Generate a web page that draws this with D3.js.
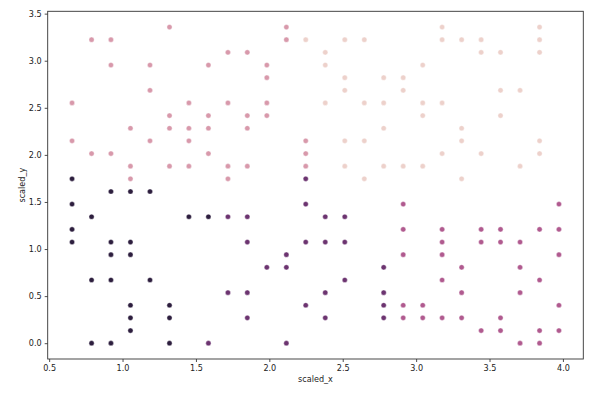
<!DOCTYPE html>
<html>
<head>
<meta charset="utf-8">
<script src="https://cdn.jsdelivr.net/npm/d3@7"></script>
<style>
	body { margin: 0; background: #fff; }
	text { font-family: "DejaVu Sans", sans-serif; }
</style>
</head>
<body onload="body_ready()">
<div id="container"></div>
<script>

// cluster points, [scaled_x, scaled_y]
var cluster0 = [ // lightest
	[3.177, 3.357], [3.841, 3.357], [2.248, 3.223], [2.514, 3.223], [2.647, 3.223], [3.177, 3.223],
	[3.310, 3.223], [3.443, 3.223], [3.841, 3.223], [2.381, 3.089], [3.443, 3.089], [3.575, 3.089],
	[3.841, 3.089], [2.381, 2.954], [3.045, 2.954], [2.514, 2.820], [2.779, 2.820], [2.912, 2.820],
	[2.514, 2.686], [2.912, 2.686], [3.575, 2.686], [3.708, 2.686], [2.381, 2.552], [2.647, 2.552],
	[2.779, 2.552], [3.045, 2.552], [3.177, 2.552], [3.045, 2.417], [3.575, 2.417], [2.779, 2.283],
	[3.310, 2.283], [2.514, 2.149], [2.647, 2.149], [3.310, 2.149], [3.841, 2.149], [3.177, 2.014],
	[3.443, 2.014], [3.841, 2.014], [2.514, 1.880], [2.779, 1.880], [2.912, 1.880], [3.045, 1.880],
	[3.708, 1.880], [2.647, 1.746], [3.310, 1.746]
];
var cluster1 = [ // pink
	[0.656, 2.552], [0.656, 2.149], [0.789, 3.223], [0.789, 2.014], [0.921, 3.223], [0.921, 2.954],
	[0.921, 2.014], [1.054, 2.283], [1.054, 1.880], [1.054, 1.746], [1.187, 2.954], [1.187, 2.686],
	[1.187, 2.149], [1.320, 3.357], [1.320, 2.417], [1.320, 2.283], [1.320, 1.880], [1.452, 2.552],
	[1.452, 2.283], [1.452, 2.149], [1.452, 1.880], [1.585, 2.954], [1.585, 2.417], [1.585, 2.283],
	[1.585, 2.014], [1.718, 3.089], [1.718, 2.552], [1.718, 1.880], [1.718, 1.746], [1.850, 3.089],
	[1.850, 2.417], [1.850, 2.283], [1.850, 1.880], [1.983, 2.954], [1.983, 2.820], [1.983, 2.552],
	[1.983, 2.417], [2.116, 3.357], [2.116, 3.223], [2.248, 2.149], [2.248, 2.014], [2.248, 1.880]
];
var cluster2 = [ // magenta
	[2.912, 1.477], [3.973, 1.477], [2.912, 1.209], [3.177, 1.209], [3.443, 1.209], [3.575, 1.209],
	[3.841, 1.209], [3.973, 1.209], [3.177, 1.074], [3.443, 1.074], [3.575, 1.074], [3.708, 1.074],
	[2.912, 0.940], [3.177, 0.940], [3.973, 0.940], [3.310, 0.806], [3.708, 0.806], [3.177, 0.671],
	[3.841, 0.671], [3.310, 0.537], [3.708, 0.537], [2.912, 0.403], [3.045, 0.403], [3.973, 0.403],
	[2.912, 0.269], [3.045, 0.269], [3.177, 0.269], [3.310, 0.269], [3.575, 0.269], [3.443, 0.134],
	[3.575, 0.134], [3.841, 0.134], [3.973, 0.134], [3.708, 0.000], [3.841, 0.000]
];
var cluster3 = [ // purple
	[1.718, 1.343], [1.850, 1.343], [1.850, 1.074], [2.116, 0.940], [1.983, 0.806], [2.116, 0.806],
	[1.718, 0.537], [1.850, 0.537], [1.850, 0.269], [1.585, 0.000], [2.116, 0.000], [2.248, 1.746],
	[2.248, 1.477], [2.381, 1.343], [2.514, 1.343], [2.248, 1.074], [2.381, 1.074], [2.514, 1.074],
	[2.779, 0.806], [2.514, 0.671], [2.381, 0.537], [2.779, 0.537], [2.248, 0.403], [2.779, 0.403],
	[2.381, 0.269], [2.779, 0.269]
];
var cluster4 = [ // darkest
	[0.656, 1.746], [0.921, 1.611], [1.054, 1.611], [1.187, 1.611], [0.656, 1.477], [0.789, 1.343],
	[1.452, 1.343], [1.585, 1.343], [0.656, 1.209], [0.656, 1.074], [0.921, 1.074], [1.054, 1.074],
	[0.921, 0.940], [1.054, 0.940], [0.789, 0.671], [0.921, 0.671], [1.187, 0.671], [1.054, 0.403],
	[1.320, 0.403], [1.054, 0.269], [1.320, 0.269], [1.054, 0.134], [0.789, 0.000], [0.921, 0.000],
	[1.320, 0.000]
];

var clusters = [cluster0, cluster1, cluster2, cluster3, cluster4];
var clusterColors = ["#edd1cb", "#d899ab", "#b05a8f", "#6c3470", "#2d1e3e"];

var xTicks = [0.5, 1.0, 1.5, 2.0, 2.5, 3.0, 3.5, 4.0];
var yTicks = [0.0, 0.5, 1.0, 1.5, 2.0, 2.5, 3.0, 3.5];

function body_ready()
{// called when the body is ready

	var width = 601, height = 394;
	var left = 47.7, right = 583.3, top = 11.3, bottom = 359;

	var canvas = d3.select("#container")
		.append("svg")
		.attr("width", width)
		.attr("height", height);

	// flatten points with their cluster index
	var points = [];
	clusters.forEach(function (c, k) {
		c.forEach(function (p) { points.push({x: p[0], y: p[1], k: k}); });
	});

	// 5% margins like matplotlib
	var xExt = d3.extent(points, (d) => d.x);
	var yExt = d3.extent(points, (d) => d.y);
	var xPad = (xExt[1] - xExt[0]) * 0.05;
	var yPad = (yExt[1] - yExt[0]) * 0.05;

	var x = d3.scaleLinear()
		.domain([xExt[0] - xPad, xExt[1] + xPad])
		.range([left, right]);
	var y = d3.scaleLinear()
		.domain([yExt[0] - yPad, yExt[1] + yPad])
		.range([bottom, top]);

	var xAxis = canvas.append("g")
		.attr("transform", "translate(0," + bottom + ")")
		.call(d3.axisBottom(x).tickValues(xTicks).tickFormat(d3.format(".1f")).tickSize(3).tickPadding(3));
	var yAxis = canvas.append("g")
		.attr("transform", "translate(" + left + ",0)")
		.call(d3.axisLeft(y).tickValues(yTicks).tickFormat(d3.format(".1f")).tickSize(3).tickPadding(3));

	[xAxis, yAxis].forEach(function (g) {
		g.select(".domain").remove();
		g.selectAll(".tick line").attr("stroke", "#222").attr("stroke-width", 0.8);
		g.selectAll(".tick text")
			.attr("fill", "#222")
			.style("font-size", "8.1px")
			.style("font-family", "'DejaVu Sans', sans-serif");
	});

	// frame
	canvas.append("rect")
		.attr("x", left)
		.attr("y", top)
		.attr("width", right - left)
		.attr("height", bottom - top)
		.attr("fill", "none")
		.attr("stroke", "#333")
		.attr("stroke-width", 0.9);

	canvas.append("g").selectAll("circle") // draw points
		.data(points)
		.enter()
		.append("circle")
			.attr("cx", (d) => x(d.x))
			.attr("cy", (d) => y(d.y))
			.attr("r", 2.6)
			.attr("fill", (d) => clusterColors[d.k])
			.attr("stroke", "#fff")
			.attr("stroke-width", 0.4);

	canvas.append("text") // axis labels
		.attr("x", (left + right) / 2)
		.attr("y", 382)
		.attr("text-anchor", "middle")
		.attr("fill", "#222")
		.style("font-size", "8.1px")
		.text("scaled_x");

	canvas.append("text")
		.attr("transform", "translate(25," + (top + bottom) / 2 + ") rotate(-90)")
		.attr("text-anchor", "middle")
		.attr("fill", "#222")
		.style("font-size", "8.1px")
		.text("scaled_y");

}// End body_ready

</script>
</body>
</html>
